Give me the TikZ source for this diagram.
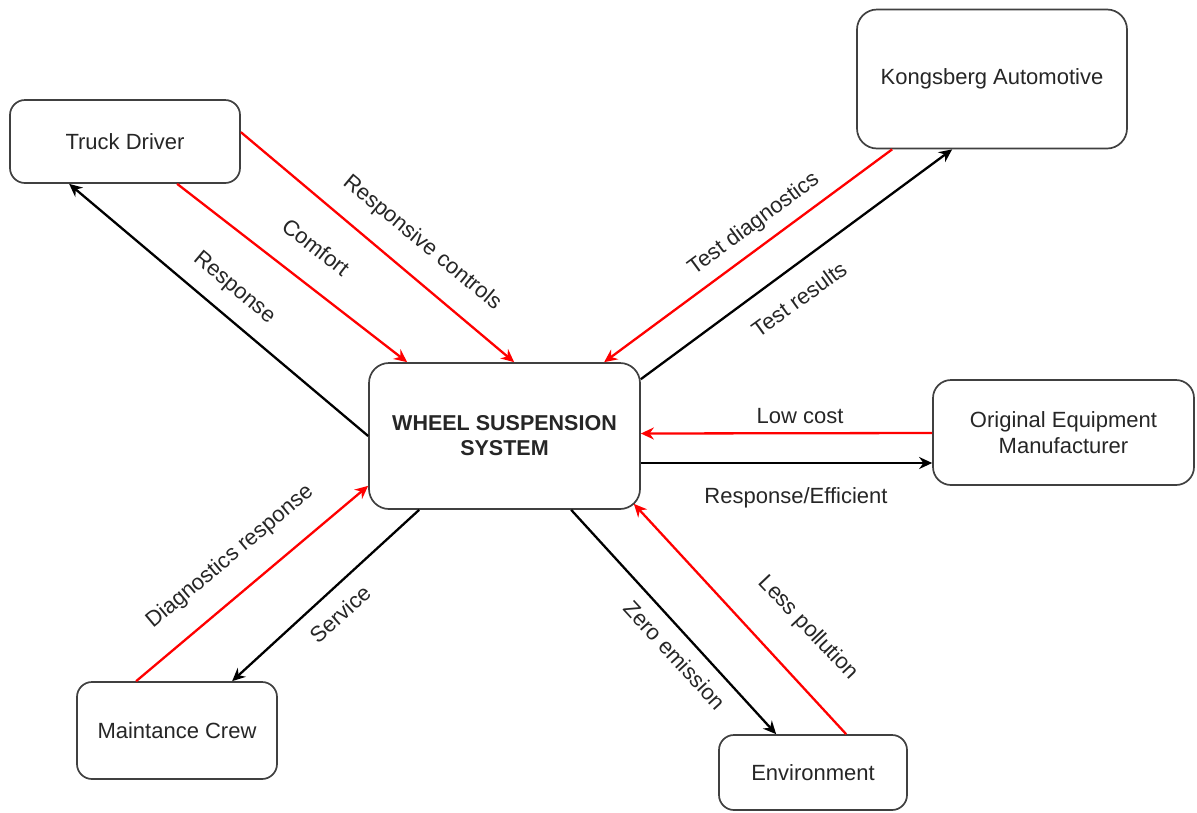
\documentclass[tikz,border=0pt]{standalone}
\usepackage{fontspec}
\setmainfont{Liberation Sans}
\usetikzlibrary{calc,arrows.meta}
\begin{document}
\begin{tikzpicture}[x=1pt,y=-1pt,
  box/.style={draw=black!75, line width=1.7pt, fill=white, rounded corners=15pt,
    inner sep=0pt, align=center, font=\fontsize{22}{26}\selectfont, text=black!85},
  lbl/.style={font=\fontsize{22}{26}\selectfont, text=black!85, inner sep=0pt},
  flow/.style={line width=2.3pt, -{Stealth[length=13pt,width=12pt]}},
  redflow/.style={flow, draw=red},
  blackflow/.style={flow, draw=black}
]
\useasboundingbox[fill=white] (0,0) rectangle (1197,812);

% actors and the central system
\node[box, minimum width=230pt, minimum height=83pt] (truck) at (125,141.5) {Truck Driver};
\node[box, rounded corners=20pt, minimum width=270pt, minimum height=139pt] (kong) at (992,79) {Kongsberg Automotive};
\node[box, rounded corners=20pt, minimum width=271pt, minimum height=146pt,
      font=\fontsize{21.5}{25}\bfseries] (wss) at (504.5,436) {WHEEL SUSPENSION\\SYSTEM};
\node[box, rounded corners=18pt, minimum width=261pt, minimum height=105pt] (oem) at (1063.5,432.5) {Original Equipment\\Manufacturer};
\node[box, minimum width=200pt, minimum height=97pt] (crew) at (177,730.5) {Maintance Crew};
\node[box, minimum width=188pt, minimum height=75pt] (env) at (813,772.5) {Environment};

% flows between the truck driver and the system
\draw[blackflow] (wss.west) -- ($(truck.south west)+(60,0)$);
\draw[redflow] ($(truck.south west)+(168,0)$) -- ($(wss.north west)+(39,0)$);
\draw[redflow] ($(truck.north east)+(0,33)$) -- ($(wss.north west)+(146,0)$);

% flows with Kongsberg Automotive
\draw[redflow] ($(kong.south west)+(36,0)$) -- ($(wss.north west)+(236,0)$);
\draw[blackflow] ($(wss.north east)+(0,17)$) -- ($(kong.south west)+(96,0)$);

% flows with the OEM
\draw[redflow] ($(oem.west)+(0,0.5)$) -- ($(wss.east)+(0,-2.5)$);
\draw[blackflow] ($(wss.east)+(0,27)$) -- ($(oem.west)+(0,30.5)$);

% flows with the environment
\draw[redflow] ($(env.north west)+(128,0)$) -- ($(wss.south east)+(-7,-6)$);
\draw[blackflow] ($(wss.south west)+(203,0)$) -- ($(env.north west)+(58,0)$);

% flows with the maintenance crew
\draw[blackflow] ($(wss.south west)+(51,0)$) -- ($(crew.north west)+(156,0)$);
\draw[redflow] ($(crew.north west)+(60,0)$) -- ($(wss.south west)+(0,-24)$);

% flow labels
\node[lbl, rotate=-40] (lresp) at (234,288) {Response};
\node[lbl, rotate=-38] (lcomf) at (316,247) {Comfort};
\node[lbl, rotate=-39.7] (lctrl) at (422,243) {Responsive controls};
\node[lbl, rotate=36.5] (ltdiag) at (754,224) {Test diagnostics};
\node[lbl, rotate=36] (ltres) at (799,299) {Test results};
\node[lbl, anchor=base] (lcost) at (800,423) {Low cost};
\node[lbl, anchor=base] (leff) at (796,503) {Response/Efficient};
\node[lbl, rotate=40] (ldresp) at (230,557) {Diagnostics response};
\node[lbl, rotate=42] (lserv) at (340,614) {Service};
\node[lbl, rotate=-47.5] (lzero) at (675,655) {Zero emission};
\node[lbl, rotate=-46.5] (lpoll) at (808,628) {Less pollution};
\end{tikzpicture}
\end{document}
